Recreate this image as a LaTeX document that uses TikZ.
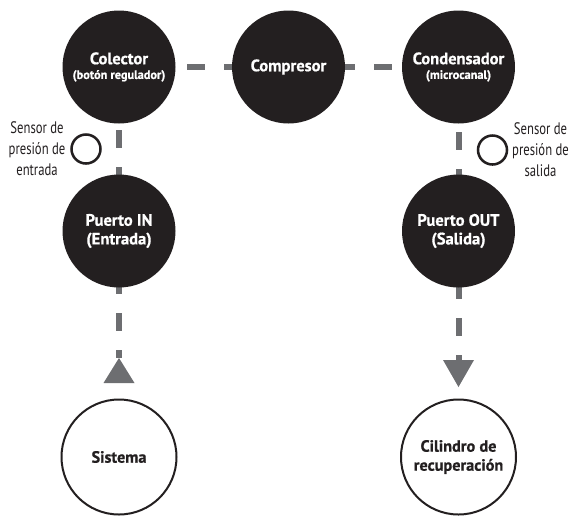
\documentclass[tikz,border=0pt]{standalone}
\usepackage{fontspec}
\setmainfont{PT Sans}[BoldFeatures={FakeBold=0.7}]
\newfontfamily\condfont[FakeStretch=0.76]{PT Sans}
\usetikzlibrary{backgrounds}
\definecolor{ink}{HTML}{231F20}
\definecolor{pipegray}{HTML}{6D6E71}
\begin{document}
\begin{tikzpicture}[x=0.75pt,y=-0.75pt,
  blackball/.style={circle, fill=ink, minimum size=84.75pt, inner sep=0pt, text=white, align=center, font=\bfseries\fontsize{12.4}{14}\selectfont},
  whiteball/.style={circle, draw=ink, line width=1.5pt, fill=white, minimum size=86.25pt, inner sep=0pt, text=ink, align=center, font=\bfseries\fontsize{12.2}{14.25}\selectfont},
  sensor/.style={circle, draw=ink, line width=1.9pt, fill=white, minimum size=21.75pt, inner sep=0pt},
  sensortext/.style={align=center, text=ink, inner sep=0pt, font=\condfont\fontsize{12.5}{15.75}\selectfont},
  pipeline/.style={draw=pipegray, line width=4.5pt, dash pattern=on 13.5pt off 14.25pt},
  tri/.style={fill=pipegray}]
\useasboundingbox (0,0) rectangle (572,515);

\node[blackball] (col) at (119,67) {Colector\\[-3pt]{\fontsize{9.2}{10}\selectfont (botón regulador)}};
\node[blackball] (comp) at (288.5,67) {Compresor};
\node[blackball] (cond) at (458.5,67) {Condensador\\[-3pt]{\fontsize{9.2}{10}\selectfont (microcanal)}};
\node[blackball] (pin) at (119,231) {Puerto IN\\(Entrada)};
\node[blackball] (pout) at (458.5,231) {Puerto OUT\\(Salida)};
\node[whiteball] (sis) at (119,457) {Sistema};
\node[whiteball] (cil) at (458.5,457) {Cilindro de\\recuperación};

\node[sensor] (sin) at (86,149) {};
\node[sensor] (sout) at (492.5,150) {};
\node[sensortext] (sinlab) at (37,149) {Sensor de\\presión de\\entrada};
\node[sensortext] (soutlab) at (540.5,150) {Sensor de\\presión de\\salida};

\coordinate (inTip) at (119,358);
\coordinate (outBase) at (458.5,360);

\begin{pgfonlayer}{background}
\draw[pipeline, dash phase=4.5pt] (col.center) -- (comp.center);
\draw[pipeline, dash phase=19.125pt] (comp.center) -- (cond.center);
\draw[pipeline, dash phase=8.25pt] (col.center) -- (pin.center);
\draw[pipeline, dash phase=6.75pt] (cond.center) -- (pout.center);
\draw[pipeline, dash phase=21.75pt] (pin.center) -- (inTip);
\draw[pipeline, dash phase=18pt] (pout.center) -- (outBase);
\end{pgfonlayer}

\fill[tri] (inTip) -- ++(-15.5,25) -- ++(31,0) -- cycle;
\fill[tri] (outBase) ++(-15.5,0) -- ++(31,0) -- ++(-15.5,27) -- cycle;
\end{tikzpicture}
\end{document}
